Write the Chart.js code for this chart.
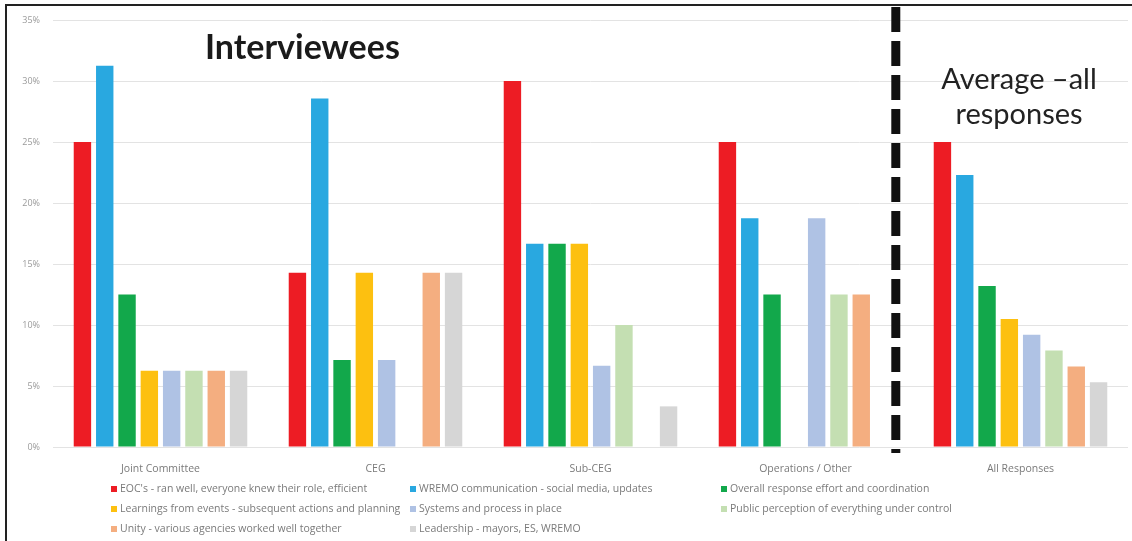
<!DOCTYPE html>
<html>
<head>
<meta charset="utf-8">
<script src="https://cdn.jsdelivr.net/npm/chart.js@4/dist/chart.umd.min.js"></script>
<style>
  html, body { margin: 0; padding: 0; background: #fff; }
  #wrap { position: relative; width: 1132px; height: 541px; overflow: hidden; }
  #frame { position: absolute; left: 5px; top: 4px; right: -4px; bottom: -4px; border-left: 2px solid #222; border-top: 2px solid #222; pointer-events: none; }
  #title1 { position: absolute; left: 205px; top: 25px; font: bold 34px Lato, sans-serif; color: #1a1a1a; }
  #title2 { position: absolute; left: 918px; top: 60px; width: 202px; text-align: center; font: 29px Lato, sans-serif; line-height: 35px; color: #222; }
  #legend { position: absolute; left: 0; top: 0; font: 10.5px "Open Sans", sans-serif; color: #7a7a7a; }
  .item { position: absolute; white-space: nowrap; line-height: 12px; }
  .box { display: inline-block; width: 6px; height: 6px; margin-right: 3px; vertical-align: 0px; }
</style>
</head>
<body>
<div id="wrap">
  <canvas id="chart" width="1132" height="541"></canvas>
  <div id="title1">Interviewees</div>
  <div id="title2">Average –all<br>responses</div>
  <div id="legend"></div>
  <div id="frame"></div>
</div>
<script>
// Kategorien und Werte (in Prozent)
const kategorien = ['Joint Committee', 'CEG', 'Sub-CEG', 'Operations / Other', 'All Responses'];
const serien = [
  "EOC's - ran well, everyone knew their role, efficient",
  'WREMO communication - social media, updates',
  'Overall response effort and coordination',
  'Learnings from events - subsequent actions and planning',
  'Systems and process in place',
  'Public perception of everything under control',
  'Unity - various agencies worked well together',
  'Leadership - mayors, ES, WREMO'
];
const farben = ['#ED1C24', '#29A8E0', '#12A84B', '#FDC010', '#AFC2E4', '#C4DFB2', '#F4AE80', '#D6D6D6'];

const eoc        = [25, 14.29, 30, 25, 25];
const wremo      = [31.25, 28.57, 16.67, 18.75, 22.3];
const overall    = [12.5, 7.14, 16.67, 12.5, 13.2];
const learnings  = [6.25, 14.29, 16.67, 0, 10.5];
const systems    = [6.25, 7.14, 6.67, 18.75, 9.2];
const perception = [6.25, 0, 10, 12.5, 7.9];
const unity      = [6.25, 14.29, 0, 12.5, 6.6];
const leadership = [6.25, 14.29, 3.33, 0, 5.3];
const werte = [eoc, wremo, overall, learnings, systems, perception, unity, leadership];

const yTicks = [0, 5, 10, 15, 20, 25, 30, 35];

// Trennlinie zwischen den Gruppen (Position in Kategorie-Einheiten)
const trennPos = 3.42;

const trennlinie = {
  id: 'trennlinie',
  afterDraw(chart) {
    const x = chart.scales.x;
    const step = x.getPixelForValue(1) - x.getPixelForValue(0);
    const px = x.getPixelForValue(3) + (trennPos - 3) * step;
    const ctx = chart.ctx;
    ctx.save();
    ctx.strokeStyle = '#111';
    ctx.lineWidth = 9;
    ctx.setLineDash([25, 9]);
    ctx.beginPath();
    ctx.moveTo(px, chart.chartArea.top - 13);
    ctx.lineTo(px, chart.chartArea.bottom + 6);
    ctx.stroke();
    ctx.restore();
  }
};

const ctx = document.getElementById('chart').getContext('2d');
const chart = new Chart(ctx, {
  type: 'bar',
  data: {
    labels: kategorien,
    datasets: serien.map((name, i) => ({
      label: name,
      data: werte[i],
      backgroundColor: farben[i],
      borderWidth: 0,
      categoryPercentage: 0.83,
      barPercentage: 0.78
    }))
  },
  options: {
    responsive: false,
    animation: false,
    layout: { padding: { top: 20, right: 4, left: 0, bottom: 0 } },
    plugins: {
      legend: { display: false },
      tooltip: { enabled: false }
    },
    scales: {
      x: {
        grid: { display: false },
        border: { display: false },
        ticks: { color: '#7a7a7a', font: { family: 'Open Sans', size: 10.5 }, padding: 8, maxRotation: 0 },
        afterFit: s => { s.height = 94; }
      },
      y: {
        min: 0,
        max: 35,
        afterBuildTicks: s => { s.ticks = yTicks.map(v => ({ value: v })); },
        grid: { color: '#e3e3e3', drawTicks: false },
        border: { display: false },
        ticks: { color: '#9a9a9a', font: { family: 'Open Sans', size: 9 }, padding: 13, callback: v => v + '%' },
        afterFit: s => { s.width = 53; }
      }
    }
  },
  plugins: [trennlinie]
});

// Legende in drei Spalten
const legX = [111, 410, 721];
const legY = [488, 508, 528];
const leg = document.getElementById('legend');
serien.forEach((name, i) => {
  const d = document.createElement('div');
  d.className = 'item';
  d.style.left = legX[i % 3] + 'px';
  d.style.top = (legY[Math.floor(i / 3)] - 6) + 'px';
  d.innerHTML = '<span class="box" style="background:' + farben[i] + '"></span>' + name;
  leg.appendChild(d);
});
</script>
</body>
</html>
